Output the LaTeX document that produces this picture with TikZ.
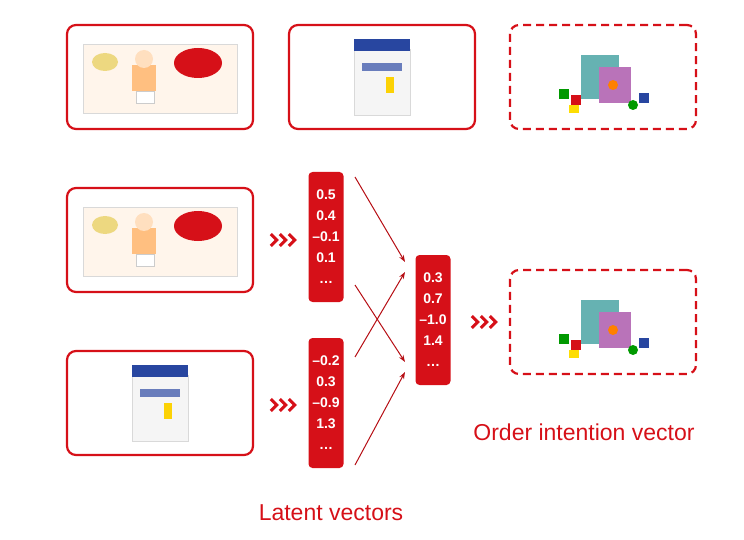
\documentclass[tikz,border=0pt]{standalone}
\usepackage{fontspec}
\setmainfont{Liberation Sans}
\usetikzlibrary{positioning,arrows.meta,calc}
\definecolor{ired}{RGB}{214,16,24}
\definecolor{ablue}{RGB}{40,70,160}
\tikzset{
  prodbox/.style={draw=ired,line width=2.2pt,rounded corners=9pt,minimum width=186pt,minimum height=104pt},
  goalbox/.style={prodbox,dash pattern=on 8pt off 5pt},
  vecbox/.style={fill=ired,rounded corners=4pt,minimum width=35pt,minimum height=130pt,text=white,
    font=\bfseries\fontsize{14}{21}\selectfont,align=center},
  link/.style={draw=ired!85!black,line width=1pt,-{Stealth[length=7pt,width=5pt]}},
  chev/.style={minimum width=28pt,minimum height=14pt},
  caption/.style={text=ired,font=\fontsize{23}{23}\selectfont}
}
% three chevrons inside a node
\newcommand\chevrons[1]{
  \foreach \k in {0,1,2}
    \draw[ired,line width=3pt,line join=miter]
      ($(#1.west)+(2+9*\k,-6)$) -- ($(#1.west)+(8+9*\k,0)$) -- ($(#1.west)+(2+9*\k,6)$);
}
% diaper pack
\newcommand\diaper[1]{
  \fill[orange!8,draw=black!15] ($(#1)+(-77,-33)$) rectangle ($(#1)+(77,36)$);
  \fill[orange!50] ($(#1)+(-28,-12)$) rectangle ($(#1)+(-4,14)$);
  \fill[orange!25] ($(#1)+(-16,-18)$) circle (9pt);
  \fill[white,draw=black!20] ($(#1)+(-24,14)$) rectangle ($(#1)+(-6,26)$);
  \fill[ired] ($(#1)+(38,-14)$) ellipse (24pt and 15pt);
  \fill[yellow!50!brown!60] ($(#1)+(-55,-15)$) ellipse (13pt and 9pt);
}
% milk can
\newcommand\milkcan[1]{
  \fill[black!4,draw=black!15] ($(#1)+(-28,-28)$) rectangle ($(#1)+(28,38)$);
  \fill[ablue] ($(#1)+(-28,-38)$) rectangle ($(#1)+(28,-26)$);
  \fill[ablue!70] ($(#1)+(-20,-14)$) rectangle ($(#1)+(20,-6)$);
  \fill[yellow!70!orange] ($(#1)+(4,0)$) rectangle ($(#1)+(12,16)$);
}
% toy cube
\newcommand\toycube[1]{
  \fill[teal!60] ($(#1)+(-22,-22)$) rectangle ($(#1)+(16,22)$);
  \fill[violet!55] ($(#1)+(-4,-10)$) rectangle ($(#1)+(28,26)$);
  \fill[orange] ($(#1)+(10,8)$) circle (5pt);
  \fill[ired] ($(#1)+(-32,18)$) rectangle ($(#1)+(-22,28)$);
  \fill[green!60!black] ($(#1)+(-44,12)$) rectangle ($(#1)+(-34,22)$);
  \fill[yellow!80!orange] ($(#1)+(-34,28)$) rectangle ($(#1)+(-24,36)$);
  \fill[ablue] ($(#1)+(36,16)$) rectangle ($(#1)+(46,26)$);
  \fill[green!60!black] ($(#1)+(30,28)$) circle (5pt);
}
\begin{document}
\begin{tikzpicture}[x=1pt,y=-1pt]
\useasboundingbox (0,0) rectangle (744,540);

% top row
\node[prodbox] (hist1) at (160,77) {};
\node[prodbox] (hist2) at (382,77) {};
\node[goalbox] (next) at (603,77) {};
\diaper{hist1} \milkcan{hist2} \toycube{next}

% inputs
\node[prodbox] (diap) at (160,240) {};
\node[prodbox] (milk) at (160,403) {};
\diaper{diap} \milkcan{milk}
\node[chev] (ch1) at (283,240) {};
\node[chev] (ch2) at (283,405) {};
\chevrons{ch1} \chevrons{ch2}

% latent vectors
\node[vecbox] (vdiap) at (326,237) {0.5\\0.4\\–0.1\\0.1\\\dots};
\node[vecbox] (vmilk) at (326,403) {–0.2\\0.3\\–0.9\\1.3\\\dots};
\node[vecbox] (vord) at (433,320) {0.3\\0.7\\–1.0\\1.4\\\dots};

\coordinate (a1) at (355,177); \coordinate (b1) at (405,262);
\coordinate (a2) at (355,285); \coordinate (b2) at (405,362);
\coordinate (a3) at (355,357); \coordinate (b3) at (405,272);
\coordinate (a4) at (355,465); \coordinate (b4) at (405,372);
\draw[link] (a1) -- (b1);
\draw[link] (a2) -- (b2);
\draw[link] (a3) -- (b3);
\draw[link] (a4) -- (b4);

% output
\node[chev] (ch3) at (484,322) {};
\chevrons{ch3}
\node[goalbox] (pred) at (603,322) {};
\toycube{pred}

\node[caption] (oiv) at (584,432) {Order intention vector};
\node[caption] (lat) at (331,513) {Latent vectors};
\end{tikzpicture}
\end{document}
